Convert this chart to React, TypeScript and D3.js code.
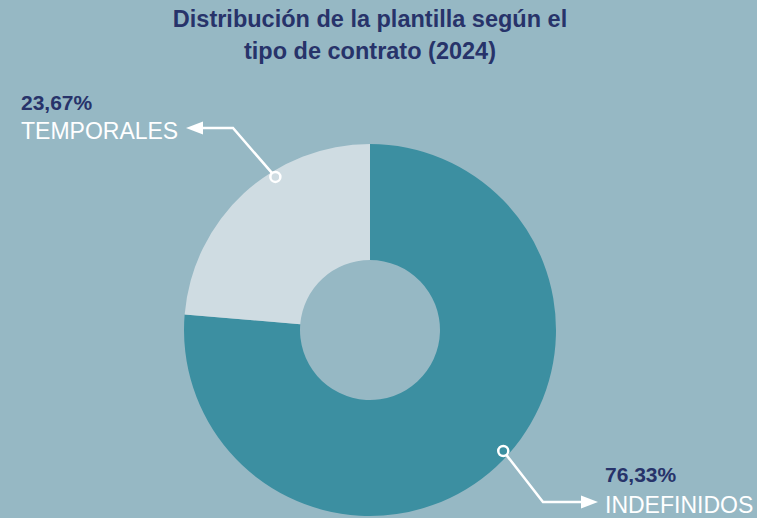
import { useEffect, useRef } from "react";
import * as d3 from "d3";

const categories = ["INDEFINIDOS", "TEMPORALES"];
const values = [76.33, 23.67];
const valueLabels = ["76,33%", "23,67%"];
const titleLines = ["Distribución de la plantilla según el", "tipo de contrato (2024)"];

export default function App() {
  const svgRef = useRef<SVGSVGElement | null>(null);

  useEffect(() => {
    const width = 757;
    const height = 518;
    const cx = 370;
    const cy = 330;
    const outerR = 186;
    const innerR = 70;
    const navy = "#27336a";
    const font = "Liberation Sans, Arial, sans-serif";
    const colors = d3.scaleOrdinal<string, string>().domain(categories).range(["#3c8fa1", "#cfdce2"]);

    const svg = d3.select(svgRef.current).attr("width", width).attr("height", height);
    svg.selectAll("*").remove();

    svg.append("rect").attr("width", width).attr("height", height).attr("fill", "#96b8c4");

    // title
    svg
      .append("g")
      .selectAll("text")
      .data(titleLines)
      .join("text")
      .attr("x", cx)
      .attr("y", (_, i) => 27 + i * 32)
      .attr("text-anchor", "middle")
      .attr("font-family", font)
      .attr("font-weight", "bold")
      .attr("font-size", 23.5)
      .attr("fill", navy)
      .text(d => d);

    const pie = d3.pie<number>().sort(null).value(d => d);
    const arcs = pie(values);
    const arc = d3.arc<d3.PieArcDatum<number>>().innerRadius(innerR).outerRadius(outerR);

    const chart = svg.append("g").attr("transform", `translate(${cx},${cy})`);
    chart
      .selectAll("path")
      .data(arcs)
      .join("path")
      .attr("d", arc)
      .attr("fill", (_, i) => colors(categories[i]));

    // callouts
    const callout = [
      { angleShift: -0.09, elbow: [543, 502], tip: [598, 502], dir: 1, textX: 605, pctY: 482, nameY: 513 },
      { angleShift: 0.19, elbow: [233, 128], tip: [186, 128], dir: -1, textX: 21, pctY: 110, nameY: 139 },
    ];

    arcs.forEach((d, i) => {
      const c = callout[i];
      const a = (d.startAngle + d.endAngle) / 2 + c.angleShift;
      const r = 180;
      const px = cx + Math.sin(a) * r;
      const py = cy - Math.cos(a) * r;
      const [tx, ty] = c.tip;
      const back = tx - c.dir * 17;

      svg
        .append("path")
        .attr("d", d3.line()([[px, py], c.elbow as [number, number], [back, ty]]))
        .attr("fill", "none")
        .attr("stroke", "white")
        .attr("stroke-width", 2.5);

      svg
        .append("polygon")
        .attr("points", `${tx},${ty} ${back},${ty - 6.5} ${back},${ty + 6.5}`)
        .attr("fill", "white");

      svg
        .append("circle")
        .attr("cx", px)
        .attr("cy", py)
        .attr("r", 5)
        .attr("fill", colors(categories[i]))
        .attr("stroke", "white")
        .attr("stroke-width", 2.5);

      svg
        .append("text")
        .attr("x", c.textX)
        .attr("y", c.pctY)
        .attr("font-family", font)
        .attr("font-weight", "bold")
        .attr("font-size", 21)
        .attr("fill", navy)
        .text(valueLabels[i]);

      svg
        .append("text")
        .attr("x", c.textX)
        .attr("y", c.nameY)
        .attr("font-family", font)
        .attr("font-size", 23)
        .attr("fill", "white")
        .text(categories[i]);
    });
  }, []);

  return (
    <div style={{ position: "absolute", left: 0, top: 0 }}>
      <svg ref={svgRef} style={{ display: "block" }}></svg>
    </div>
  );
}
